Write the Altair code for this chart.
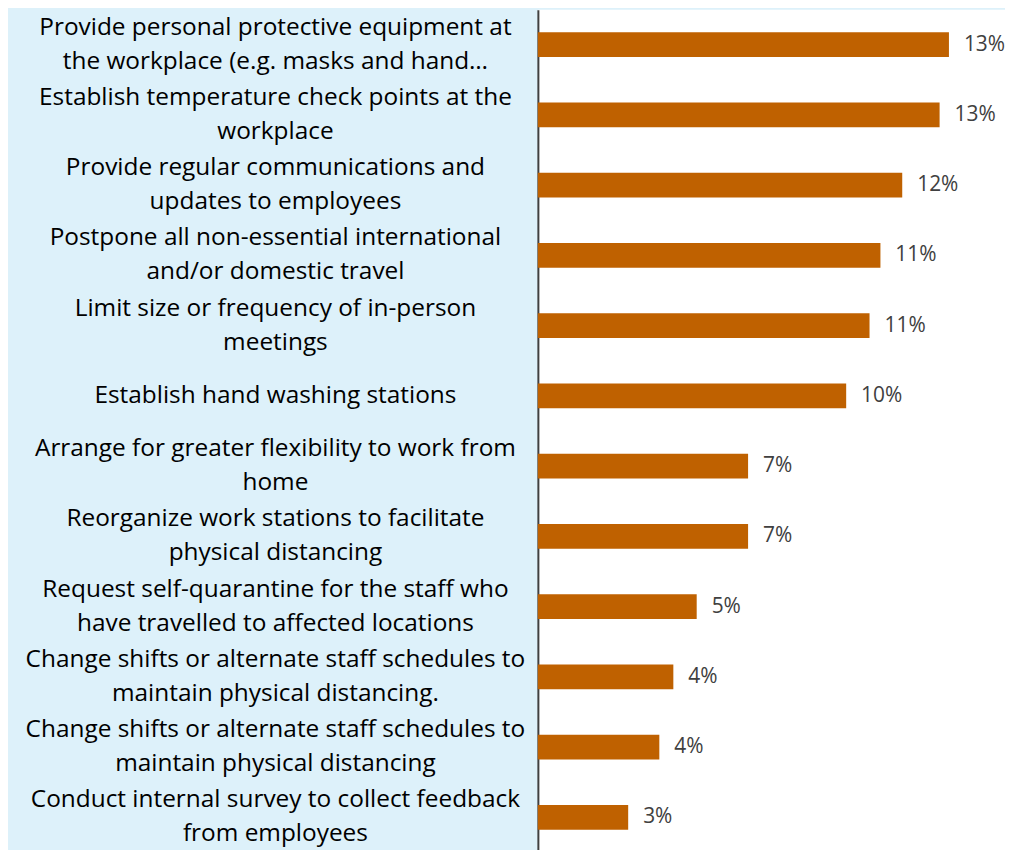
import altair as alt
import pandas as pd

categories = [
    "Provide personal protective equipment at\nthe workplace (e.g. masks and hand…",
    "Establish temperature check points at the\nworkplace",
    "Provide regular communications and\nupdates to employees",
    "Postpone all non-essential international\nand/or domestic travel",
    "Limit size or frequency of in-person\nmeetings",
    "Establish hand washing stations",
    "Arrange for greater flexibility to work from\nhome",
    "Reorganize work stations to facilitate\nphysical distancing",
    "Request self-quarantine for the staff who\nhave travelled to affected locations",
    "Change shifts or alternate staff schedules to\nmaintain physical distancing.",
    "Change shifts or alternate staff schedules to\nmaintain physical distancing",
    "Conduct internal survey to collect feedback\nfrom employees",
]
values = [0.132, 0.129, 0.117, 0.110, 0.1065, 0.099, 0.0675, 0.0675, 0.051, 0.0435, 0.039, 0.029]

df = pd.DataFrame({"measure": categories, "share": values})

y_enc = alt.Y(
    "measure:N",
    sort=None,
    title=None,
    scale=alt.Scale(paddingInner=0.645, paddingOuter=0.32),
    axis=alt.Axis(
        labelExpr="split(datum.label, '\\n')",
        labelAlign="center",
        labelBaseline=alt.expr("indexof(datum.value, '\\n') >= 0 ? 'line-bottom' : 'middle'"),
        labelPadding=264,
        labelFont="Open Sans",
        labelFontSize=24.5,
        labelLineHeight=34,
        labelColor="#000000",
        labelLimit=800,
        ticks=False,
        tickSize=0,
        domainColor="#404040",
        domainWidth=2,
        grid=False,
    ),
)
x_enc = alt.X("share:Q", axis=None, scale=alt.Scale(domain=[0, 0.15], nice=False, zero=True))

bars = alt.Chart(df).mark_bar(color="#BF6100").encode(x=x_enc, y=y_enc)
labels = alt.Chart(df).mark_text(
    align="left", baseline="middle", dx=15, font="Open Sans", fontSize=21, color="#404040"
).encode(x=x_enc, y=y_enc, text=alt.Text("share:Q", format=".0%"))

chart = (
    alt.layer(bars, labels)
    .properties(
        width=469,
        height=846,
        autosize=alt.AutoSizeParams(type="none"),
        padding={"left": 532, "top": 0, "right": 0, "bottom": 0},
        background="#DDF1FA",
    )
    .configure_view(fill="#FFFFFF", strokeWidth=0)
)

chart.save("out.html", embed_options={"renderer": "svg", "actions": False})
